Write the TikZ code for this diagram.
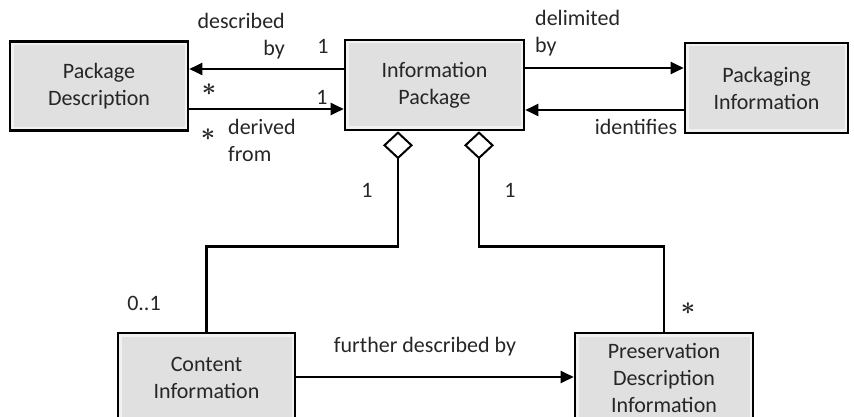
\documentclass[tikz,border=0pt]{standalone}
\usepackage{fontspec}
\setmainfont{Carlito}
\usetikzlibrary{arrows.meta}

\tikzset{
    box/.style={draw=black,line width=2.6pt,fill=gray!24,text=black!85,
        inner sep=0pt,align=center,font=\fontsize{22}{27}\selectfont,
        path picture={\draw[white,line width=7pt,opacity=0.55]
            (path picture bounding box.south west) rectangle
            (path picture bounding box.north east);}},
    lbl/.style={text=black!85,inner sep=0pt,font=\fontsize{22}{27}\selectfont},
    mult/.style={text=black!85,inner sep=0pt,font=\fontsize{28}{28}\selectfont\boldmath},
    rel/.style={line width=2.4pt,-{Triangle[length=13pt,width=12pt]}},
    agg/.style={line width=2.4pt,{Diamond[open,length=28pt,width=30pt,line width=2pt]}-}
}

\begin{document}
\begin{tikzpicture}[x=1pt,y=-1pt]%
    \useasboundingbox (0,0) rectangle (854,417);
    % classes
    \node[box,minimum width=178pt,minimum height=89pt] (pd) at (99,86) {Package\\Description};
    \node[box,minimum width=179pt,minimum height=90pt] (ip) at (434.5,85) {Information\\Package};
    \node[box,minimum width=163pt,minimum height=90pt] (pkg) at (766.5,88) {Packaging\\Information};
    \node[box,minimum width=177pt,minimum height=90pt] (ci) at (206.5,378) {Content\\Information};
    \node[box,minimum width=178pt,minimum height=90pt] (pdi) at (664,378) {Preservation\\Description\\Information};

    % associations
    \draw[rel] ([yshift=16pt]ip.west) -- ([yshift=16pt]ip.west -| pd.east);
    \draw[rel] ([yshift=-23pt]pd.east) -- ([yshift=-23pt]pd.east -| ip.west);
    \draw[rel] ([yshift=17pt]ip.east) -- ([yshift=17pt]ip.east -| pkg.west);
    \draw[rel] ([yshift=-22pt]pkg.west) -- ([yshift=-22pt]pkg.west -| ip.east);
    \draw[rel] ([yshift=1pt]ci.east) -- ([yshift=1pt]ci.east -| pdi.west);

    % aggregations
    \draw[agg] ([xshift=-36.5pt]ip.south) -- ++(0,115) -| (ci.north);
    \draw[agg] ([xshift=44.5pt]ip.south) -- ++(0,115) -| (pdi.north);

    % labels
    \node[lbl,align=right,anchor=east] (l1) at (285,36) {described\\by};
    \node[lbl] (m1) at (323,46) {1};
    \node[mult] (m2) at (209,90) {$\ast$};
    \node[lbl] (m3) at (322,97) {1};
    \node[mult] (m4) at (208,135) {$\ast$};
    \node[lbl,align=left,anchor=west] (l2) at (228,140) {derived\\from};
    \node[lbl,align=left,anchor=west] (l3) at (535,33) {delimited\\by};
    \node[lbl] (l4) at (636,127) {identifies};
    \node[lbl] (m5) at (367,190) {1};
    \node[lbl] (m6) at (510,190) {1};
    \node[lbl] (m7) at (144,303) {0..1};
    \node[mult] (m8) at (688,309) {$\ast$};
    \node[lbl] (l5) at (425,347) {further described by};
\end{tikzpicture}
\end{document}
